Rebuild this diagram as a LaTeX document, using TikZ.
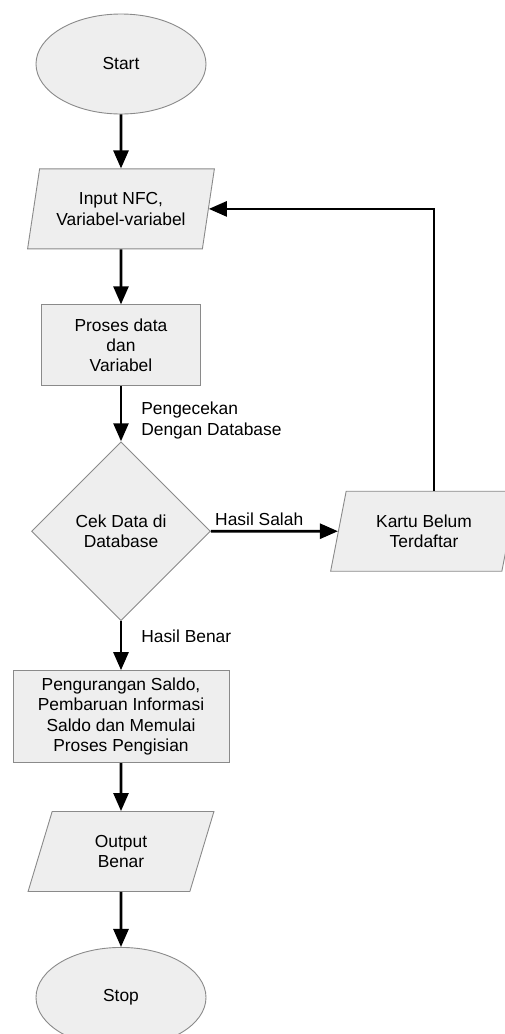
\documentclass[tikz,border=0pt]{standalone}
\usepackage{fontspec}
\setmainfont{Liberation Sans}
\usetikzlibrary{arrows.meta,positioning,shapes.geometric}
\definecolor{boxfill}{HTML}{EEEEEE}
\definecolor{boxline}{HTML}{8A8A8A}
\newcommand{\flowfont}{\fontsize{17.4}{20.4}\selectfont}
\tikzset{
  term/.style ={ellipse,draw=boxline,fill=boxfill,line width=0.9pt,align=center,
                font=\flowfont,minimum width=170pt,minimum height=100pt},
  io/.style   ={trapezium,trapezium left angle=75,trapezium right angle=105,
                trapezium stretches=true,draw=boxline,fill=boxfill,line width=0.9pt,
                align=center,font=\flowfont,inner sep=2pt,
                minimum width=187pt,minimum height=80pt},
  proc/.style ={rectangle,draw=boxline,fill=boxfill,line width=0.9pt,align=center,
                font=\flowfont,minimum width=159pt,minimum height=81pt},
  dec/.style  ={diamond,draw=boxline,fill=boxfill,line width=0.9pt,align=center,
                font=\flowfont,minimum size=179pt,inner sep=1pt},
  ar/.style   ={-{Triangle[length=18pt,width=15pt]},line width=2.6pt},
  lbl/.style  ={font=\flowfont,align=left,inner sep=1pt},
}

\begin{document}
\begin{tikzpicture}[x=1pt,y=-1pt,node distance=54pt]
\useasboundingbox (0,0) rectangle (505,1034);
\node[term] (start) at (121,64) {Start};
\node[io, below=of start] (input) {Input NFC,\\Variabel-variabel};
\node[proc, below=55pt of input] (proses) {Proses data\\dan\\Variabel};
\node[dec, below=55pt of proses] (cek) {Cek Data di\\Database};
\node[proc, below=49pt of cek, minimum width=216pt, minimum height=92pt] (kurang)
  {Pengurangan Saldo,\\Pembaruan Informasi\\Saldo dan Memulai\\Proses Pengisian};
\node[io, below=48pt of kurang] (output) {Output\\Benar};
\node[term, below=55pt of output] (stop) {Stop};
\node[io, right=127pt of cek] (kartu) {Kartu Belum\\Terdaftar};
\draw[ar] (start)--(input); \draw[ar] (input)--(proses);
\draw[ar] (proses)--node[lbl,pos=0.62,anchor=west,xshift=18pt]{Pengecekan\\Dengan Database}(cek);
\draw[ar] (cek)--node[lbl,pos=0.38,above=3pt]{Hasil Salah}(kartu);
\draw[ar] ([xshift=10pt]kartu.north) |- (input.east);
\draw[ar] (cek)--node[lbl,pos=0.3,anchor=west,xshift=18pt]{Hasil Benar}(kurang);
\draw[ar] (kurang)--(output); \draw[ar] (output)--(stop);
\end{tikzpicture}
\end{document}
